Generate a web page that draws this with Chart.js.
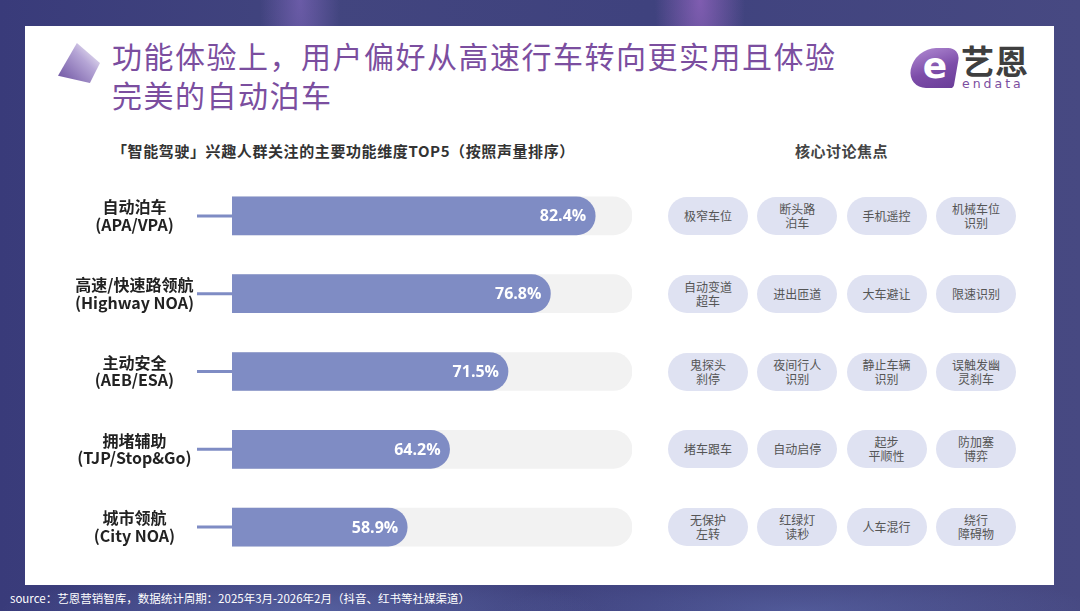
<!DOCTYPE html>
<html><head><meta charset="utf-8">
<script src="https://cdn.jsdelivr.net/npm/chart.js@4.4.1/dist/chart.umd.min.js"></script>
<style>
html,body{margin:0;padding:0;}
body{width:1080px;height:611px;position:relative;overflow:hidden;font-family:"Noto Sans CJK SC","Noto Sans",sans-serif;
background:
 radial-gradient(ellipse 40px 160px at 300px 0px, rgba(140,110,200,0.55), rgba(0,0,0,0)),
 radial-gradient(ellipse 45px 140px at 700px 0px, rgba(170,110,210,0.6), rgba(0,0,0,0)),
 radial-gradient(ellipse 300px 40px at 300px 611px, rgba(110,130,200,0.45), rgba(0,0,0,0)),
 radial-gradient(ellipse 300px 40px at 800px 611px, rgba(110,130,200,0.35), rgba(0,0,0,0)),
 linear-gradient(90deg,#393b7a 0%,#42457f 30%,#3f427e 60%,#474982 100%);}
#card{position:absolute;left:25px;top:26px;width:1029px;height:559px;background:#fff;}
#deco{position:absolute;left:58px;top:43px;width:42px;height:40px;
 clip-path:polygon(45% 0%,100% 50%,76% 100%,0% 82%);
 background:linear-gradient(225deg,#ffffff 0%,#b6a6d6 40%,#6a4f9f 100%);}
#title{position:absolute;left:112px;top:36px;font-size:30px;line-height:39px;color:#7b4e9f;letter-spacing:1.5px;white-space:nowrap;font-weight:400;}
#logoShape{position:absolute;left:911px;top:48px;width:46px;height:40px;
 background:linear-gradient(160deg,#b18bd3 0%,#7d4da9 55%,#6a3d98 100%);
 border-radius:28px 16px 4px 24px;transform:skewX(-10deg);}
#logoE{position:absolute;left:916px;top:42px;width:38px;text-align:center;font-family:"DejaVu Sans",sans-serif;font-weight:bold;font-size:36px;line-height:48px;color:#fff;}
#logoCN{position:absolute;left:961px;top:39px;font-size:33px;line-height:42px;font-weight:700;color:#3f3f3f;letter-spacing:1px;}
#logoEN{position:absolute;left:962px;top:77px;font-family:"DejaVu Sans",sans-serif;font-size:12.5px;line-height:13px;color:#7b4ea0;letter-spacing:3px;}
#subtitle{position:absolute;left:112px;top:141px;font-size:15px;line-height:20px;font-weight:700;color:#333;white-space:nowrap;letter-spacing:0.6px;}
#focus{position:absolute;left:795px;top:141px;font-size:15px;line-height:20px;font-weight:700;color:#444;white-space:nowrap;letter-spacing:0.5px;}
#chartBox{position:absolute;left:40px;top:177px;width:600px;height:389px;}
.pill{position:absolute;width:80px;height:38px;border-radius:19px;background:#dfe2f2;color:#555;font-size:12px;line-height:14px;
 display:flex;align-items:center;justify-content:center;text-align:center;white-space:pre;}
#source{position:absolute;left:10px;top:590px;font-size:11.5px;line-height:16px;color:#fff;white-space:nowrap;}
</style></head>
<body>
<div id="card"></div>
<div id="deco"></div>
<div id="title">功能体验上，用户偏好从高速行车转向更实用且体验<br>完美的自动泊车</div>
<div id="logoShape"></div>
<div id="logoE">e</div>
<div id="logoCN">艺恩</div>
<div id="logoEN">endata</div>
<div id="subtitle">「智能驾驶」兴趣人群关注的主要功能维度TOP5（按照声量排序）</div>
<div id="focus">核心讨论焦点</div>
<div id="chartBox"><canvas id="c"></canvas></div>
<div id="pills"></div>
<div id="source">source：艺恩营销智库，数据统计周期：2025年3月-2026年2月（抖音、红书等社媒渠道）</div>
<script>
// ---- data ----
const CATEGORIES = [
  ['自动泊车','(APA/VPA)'],
  ['高速/快速路领航','(Highway NOA)'],
  ['主动安全','(AEB/ESA)'],
  ['拥堵辅助','(TJP/Stop&Go)'],
  ['城市领航','(City NOA)']
];
const VALUES = [82.4, 76.8, 71.5, 64.2, 58.9];
const FOCUS_TAGS = [
  ['极窄车位','断头路\n泊车','手机遥控','机械车位\n识别'],
  ['自动变道\n超车','进出匝道','大车避让','限速识别'],
  ['鬼探头\n刹停','夜间行人\n识别','静止车辆\n识别','误触发幽\n灵刹车'],
  ['堵车跟车','自动启停','起步\n平顺性','防加塞\n博弈'],
  ['无保护\n左转','红绿灯\n读秒','人车混行','绕行\n障碍物']
];
// visual scale window of the original infographic
const AXIS_MIN = 37;
const AXIS_MAX = 87;

const BAR_COLOR = '#7f8cc4';
const TRACK_COLOR = '#f2f2f2';

const decor = {
  id:'decor',
  beforeDatasetsDraw(chart){
    const ctx = chart.ctx, left = chart.chartArea.left;
    const meta = chart.getDatasetMeta(0);
    ctx.save();
    ctx.strokeStyle = BAR_COLOR; ctx.lineWidth = 3;
    meta.data.forEach(bar=>{
      ctx.beginPath(); ctx.moveTo(left-35, bar.y); ctx.lineTo(left+4, bar.y); ctx.stroke();
    });
    ctx.restore();
  },
  afterDatasetsDraw(chart){
    const ctx = chart.ctx;
    const meta = chart.getDatasetMeta(0);
    ctx.save();
    ctx.fillStyle = '#fff';
    ctx.font = 'bold 16px "Open Sans"';
    ctx.textAlign = 'right'; ctx.textBaseline = 'middle';
    meta.data.forEach((bar,i)=>{
      ctx.fillText(VALUES[i].toFixed(1)+'%', bar.x-9, bar.y+1);
    });
    ctx.restore();
  }
};

const chart = new Chart(document.getElementById('c'), {
  type:'bar',
  data:{
    labels: CATEGORIES,
    datasets:[
      {data: VALUES, backgroundColor: BAR_COLOR, barThickness:38, borderRadius:19, borderSkipped:false, grouped:false, order:0},
      {data: VALUES.map(()=>AXIS_MAX), backgroundColor: TRACK_COLOR, barThickness:38, borderRadius:19, borderSkipped:false, grouped:false, order:1}
    ]
  },
  options:{
    indexAxis:'y',
    responsive:true, maintainAspectRatio:false, animation:false,
    layout:{padding:{left:0,right:8,top:0,bottom:0}},
    plugins:{legend:{display:false}, tooltip:{enabled:false}},
    scales:{
      x:{type:'linear', min:AXIS_MIN, max:AXIS_MAX, display:false},
      y:{type:'category', grid:{display:false}, border:{display:false},
         ticks:{crossAlign:'center', padding:30, color:'#222',
                font:{family:'"Noto Sans CJK SC"', size:16, weight:'bold', lineHeight:1.1}},
         afterFit(s){ s.width = 192; s.paddingTop = 0; s.paddingBottom = 0; }}
    }
  },
  plugins:[decor]
});

// focus tags aligned to the chart rows
const box = document.getElementById('chartBox');
const pills = document.getElementById('pills');
const PILL_X0 = 668, PILL_STEP = 89.3;
FOCUS_TAGS.forEach((row,i)=>{
  const cy = box.offsetTop + chart.scales.y.getPixelForValue(i);
  row.forEach((t,j)=>{
    const d = document.createElement('div');
    d.className = 'pill';
    d.textContent = t;
    d.style.left = (PILL_X0 + j*PILL_STEP) + 'px';
    d.style.top = (cy - 19) + 'px';
    pills.appendChild(d);
  });
});
</script>
</body></html>
